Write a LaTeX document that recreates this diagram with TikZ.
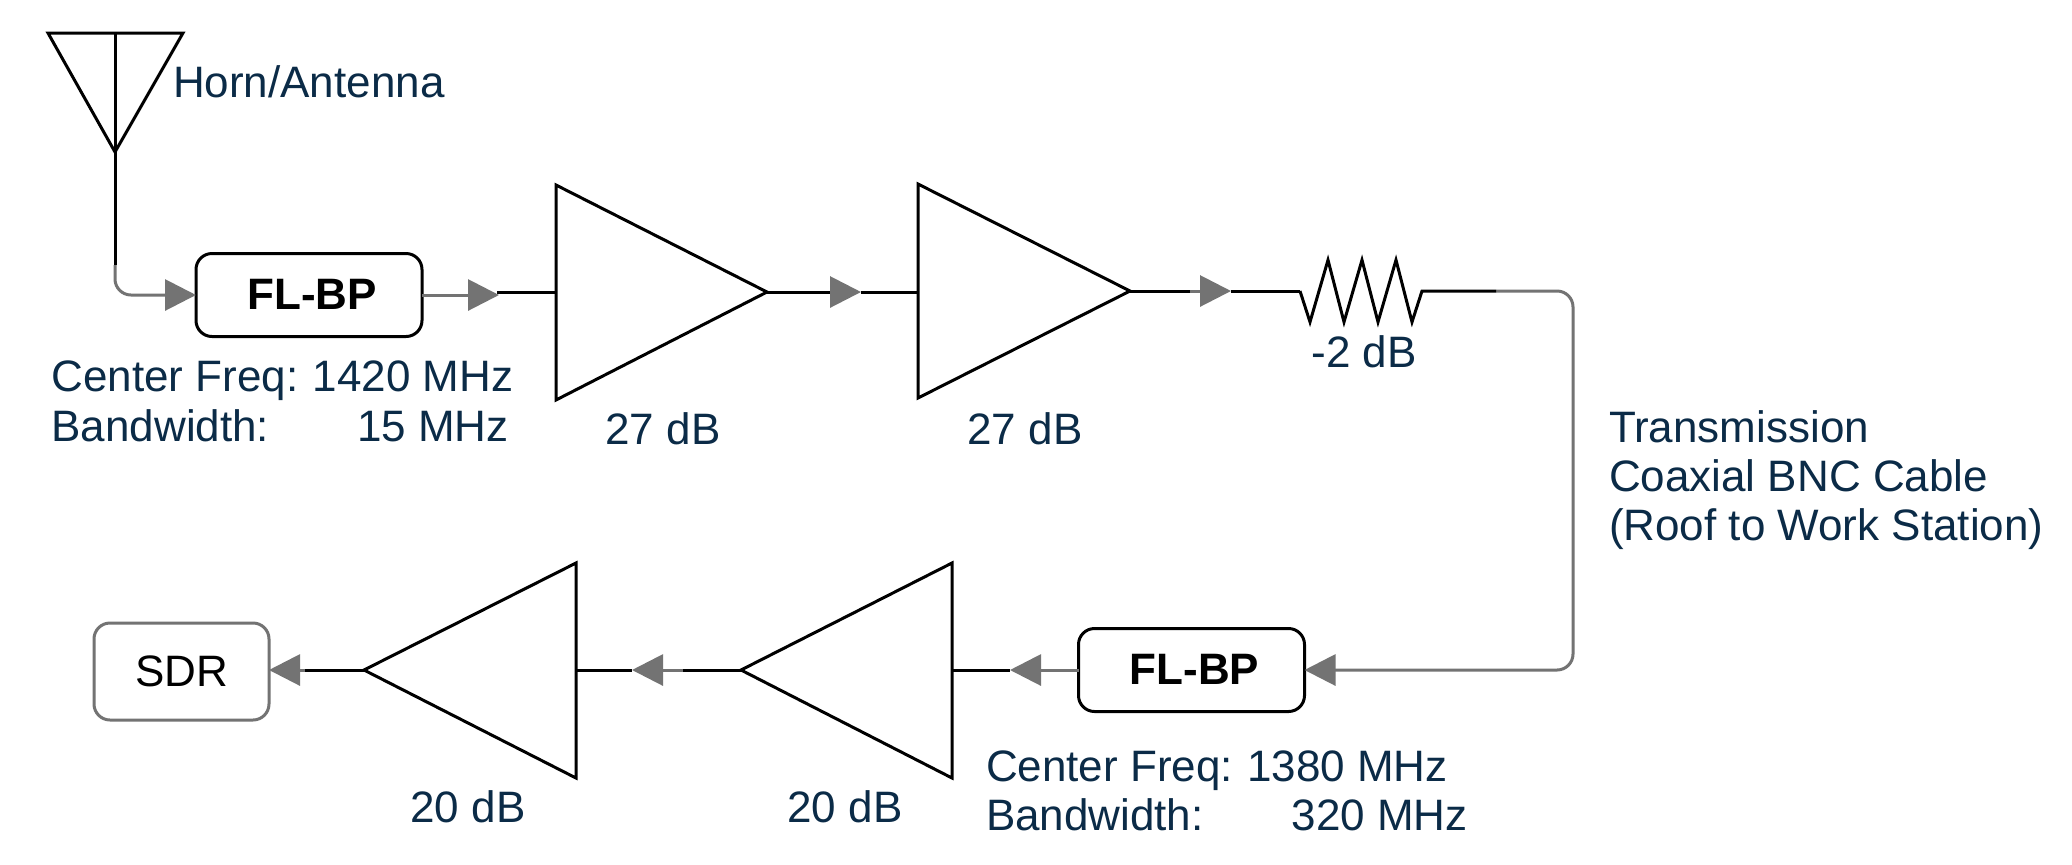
\documentclass[tikz,border=0pt]{standalone}
\usepackage{fontspec}
\setmainfont{Liberation Sans}
\usetikzlibrary{arrows.meta}
\definecolor{navy}{HTML}{0B2B47}
\definecolor{arrowgray}{HTML}{737373}
\tikzset{
  blk/.style={draw=black,line width=1.5pt,line join=miter},
  wire/.style={draw=arrowgray,line width=1.5pt,rounded corners=8pt,-{Triangle[length=15.5pt,width=15.5pt,fill=arrowgray]}},
  lab/.style={anchor=base west,inner sep=0pt,outer sep=0pt,text=navy,font=\fontsize{22}{24.6}\selectfont,align=left},
  labc/.style={lab,anchor=base},
  filt/.style={draw=black,line width=1.5pt,rounded corners=8pt,fill=white,minimum width=113pt,minimum height=41.5pt,inner sep=0pt,outer sep=0pt,text height=14.5pt,text depth=0pt,font=\fontsize{22}{25}\selectfont\bfseries},
  sdrbox/.style={draw=arrowgray,line width=1.5pt,rounded corners=8pt,fill=white,minimum width=87.5pt,minimum height=48.5pt,inner sep=0pt,outer sep=0pt,font=\fontsize{22}{25}\selectfont},
}
\begin{document}
\begin{tikzpicture}[x=0.5pt,y=-0.5pt]
\useasboundingbox[fill=white] (0,0) rectangle (2072,864);
% named points
\coordinate (anttl) at (48,33); \coordinate (anttr) at (183,33); \coordinate (anttip) at (115,152);
\coordinate (anttop) at (115,33); \coordinate (stem) at (115,265);
\node[filt] (f1) at (309,295) {\hspace{3pt}FL-BP};
\coordinate (a1tip) at (499,295); \coordinate (s1) at (497,292);
\coordinate (amp1in) at (556,292); \coordinate (amp1t) at (556,185); \coordinate (amp1b) at (556,400); \coordinate (amp1out) at (767,292);
\coordinate (a2gray) at (830,292); \coordinate (a2tip) at (861,292);
\coordinate (amp2in) at (918,291); \coordinate (amp2t) at (918,184); \coordinate (amp2b) at (918,398); \coordinate (amp2out) at (1130,291);
\coordinate (a3gray) at (1190,291); \coordinate (a3tip) at (1231,291);
\coordinate (resin) at (1300,291); \coordinate (resout) at (1422,291); \coordinate (cable) at (1496,291);
\coordinate (corner1) at (1573,291); \coordinate (corner2) at (1573,670);
\node[filt] (f2) at (1191.5,670) {\hspace{3pt}FL-BP};
\coordinate (a4tip) at (1010,670);
\coordinate (amp3in) at (952,670); \coordinate (amp3t) at (952,563); \coordinate (amp3b) at (952,778); \coordinate (amp3out) at (741,670);
\coordinate (a5gray) at (683,670); \coordinate (a5tip) at (632,670);
\coordinate (amp4in) at (576,670); \coordinate (amp4t) at (576,563); \coordinate (amp4b) at (576,778); \coordinate (amp4out) at (364,670);
\coordinate (a6gray) at (305,670);
\node[sdrbox] (sdr) at (181.5,671.5) {SDR};
% gray connectors
\draw[wire] (stem) |- (f1.west);
\draw[wire] (f1.east) -- (a1tip);
\draw[wire] (a2gray) -- (a2tip);
\draw[wire] (a3gray) -- (a3tip);
\draw[wire] (cable) -- (corner1) -- (corner2) -- (f2.east);
\draw[wire] (f2.west) -- (a4tip);
\draw[wire] (a5gray) -- (a5tip);
\draw[wire] (a6gray) -- (a6gray -| sdr.east);
% black parts
\draw[blk] (anttop) -- (stem);
\draw[blk] (anttl) -- (anttr) -- (anttip) -- cycle;
\draw[blk] (s1) -- (amp1in);
\draw[blk] (amp1t) -- (amp1b) -- (amp1out) -- cycle;
\draw[blk] (amp1out) -- (a2gray);
\draw[blk] (a2tip) -- (amp2in |- a2tip);
\draw[blk] (amp2t) -- (amp2b) -- (amp2out) -- cycle;
\draw[blk] (amp2out) -- (a3gray);
\draw[blk] (a3tip) -- (resin);
\draw[blk] (resin) -- (1310,322) -- (1328,260) -- (1344,322) -- (1362,260) -- (1378,322) -- (1396,260) -- (1412,322) -- (resout) -- (cable);
\draw[blk] (amp3t) -- (amp3b) -- (amp3out) -- cycle;
\draw[blk] (amp3in) -- (a4tip);
\draw[blk] (amp3out) -- (a5gray);
\draw[blk] (amp4t) -- (amp4b) -- (amp4out) -- cycle;
\draw[blk] (amp4in) -- (a5tip);
\draw[blk] (amp4out) -- (a6gray);
% labels
\node[lab] (hornlab) at (173,97) {Horn/Antenna};
\node[lab] (f1lab) at (51.5,441) {Center Freq:\kern-1pt{} 1420 MHz\\Bandwidth:\hspace{44pt}15 MHz};
\node[labc] (g1) at (663,444) {27 dB};
\node[labc] (g2) at (1025,444) {27 dB};
\node[labc] (g3) at (1364,367) {-2 dB};
\node[lab] (cablelab) at (1609,540.5) {Transmission\\Coaxial BNC Cable\\(Roof to Work Station)};
\node[lab] (f2lab) at (986,830.5) {Center Freq:\kern-1pt{} 1380 MHz\\Bandwidth:\hspace{44pt}320 MHz};
\node[labc] (g4) at (845,822) {20 dB};
\node[labc] (g5) at (468,822) {20 dB};
\end{tikzpicture}
\end{document}
